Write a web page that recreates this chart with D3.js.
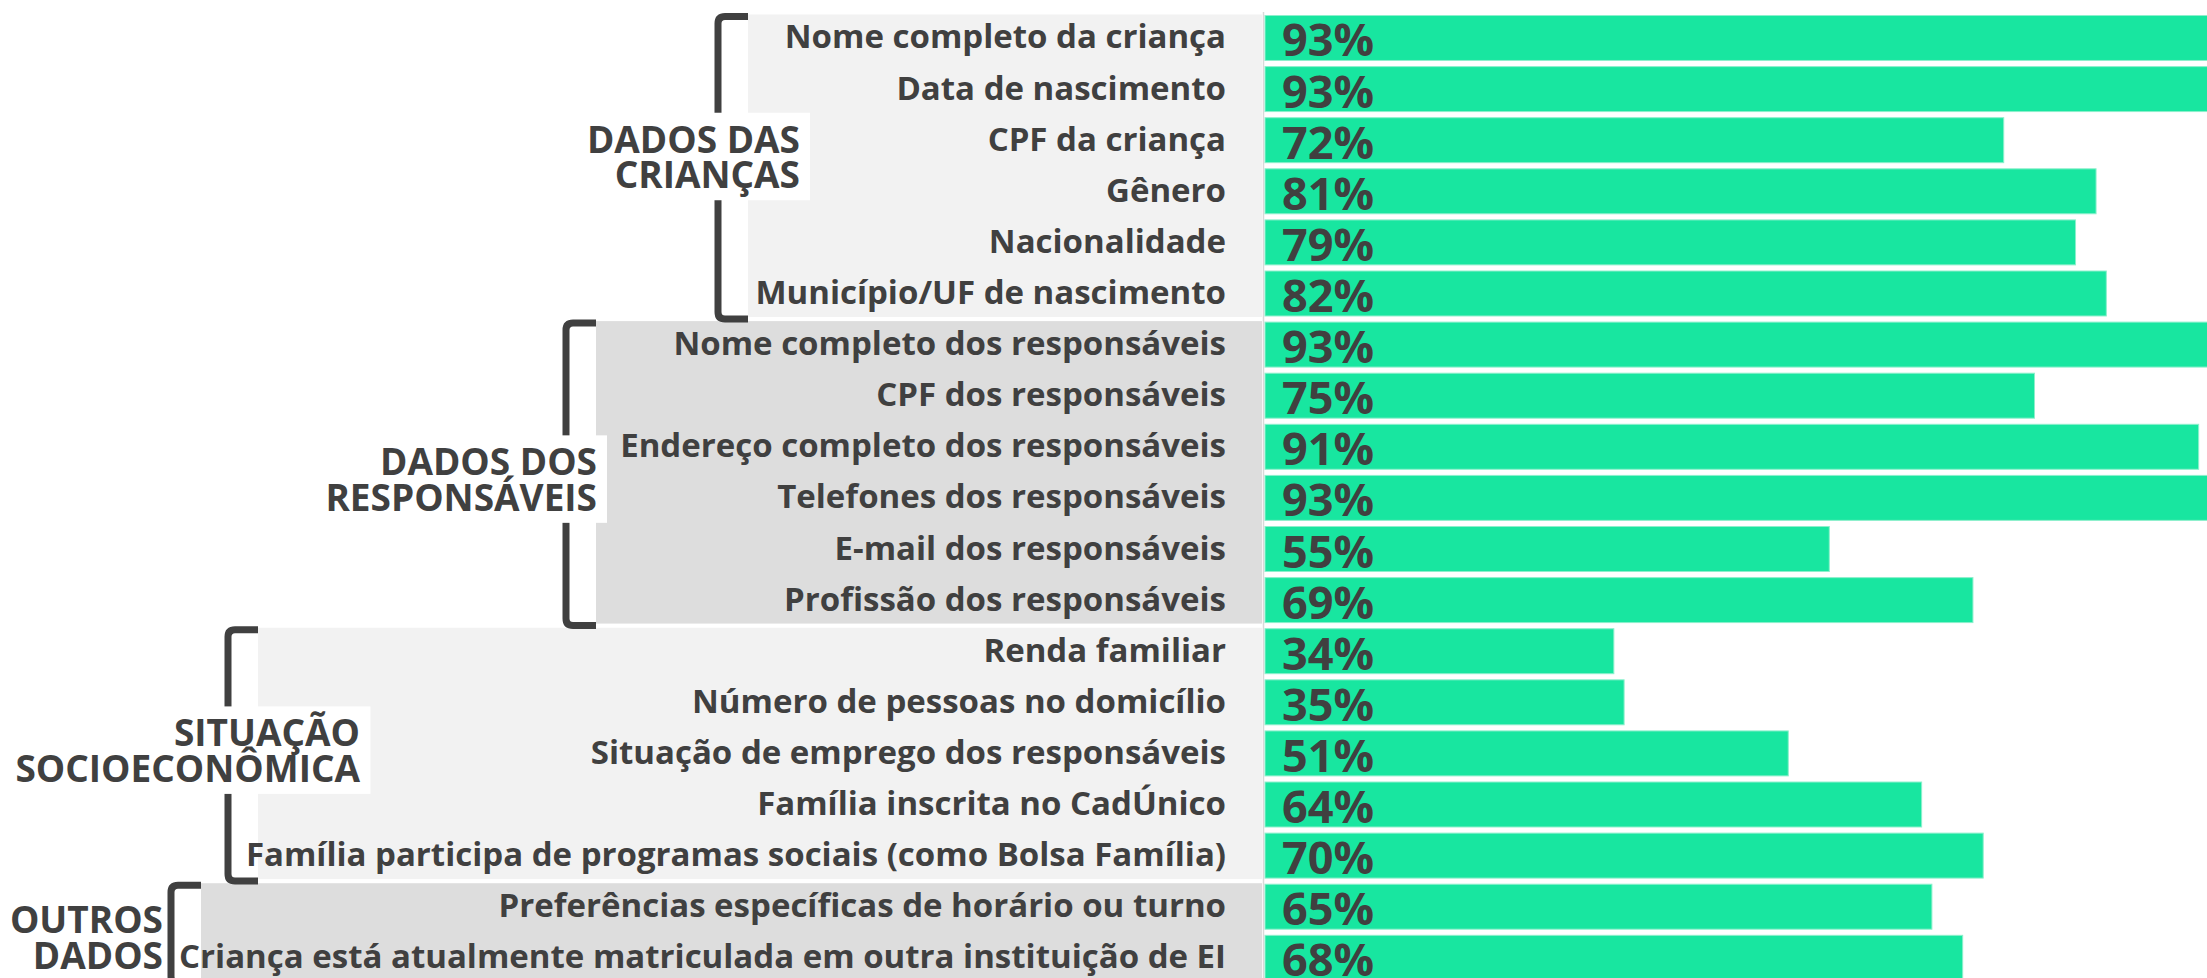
<!DOCTYPE html>
<html>
<head>
  <meta charset="utf-8">
  <title>Dados coletados no cadastro</title>
  <script src="https://d3js.org/d3.v7.min.js"></script>
  <style>
    body { margin: 0; background: #fff; }
    svg text { font-family: "Open Sans", "Noto Sans", sans-serif; font-weight: 700; fill: #404040; }
  </style>
</head>
<body>
  <svg id="chart" width="2207" height="978"></svg>

  <script>
    // category labels, one per bar
    const items = [
      "Nome completo da criança",
      "Data de nascimento",
      "CPF da criança",
      "Gênero",
      "Nacionalidade",
      "Município/UF de nascimento",
      "Nome completo dos responsáveis",
      "CPF dos responsáveis",
      "Endereço completo dos responsáveis",
      "Telefones dos responsáveis",
      "E-mail dos responsáveis",
      "Profissão dos responsáveis",
      "Renda familiar",
      "Número de pessoas no domicílio",
      "Situação de emprego dos responsáveis",
      "Família inscrita no CadÚnico",
      "Família participa de programas sociais (como Bolsa Família)",
      "Preferências específicas de horário ou turno",
      "Criança está atualmente matriculada em outra instituição de EI"
    ];

    // percentage of yes answers
    const values = [93, 93, 72, 81, 79, 82, 93, 75, 91, 93, 55, 69, 34, 35, 51, 64, 70, 65, 68];

    // group titles (two lines each) and how many items fall in each group
    const groupLines = [
      ["DADOS DAS", "CRIANÇAS"],
      ["DADOS DOS", "RESPONSÁVEIS"],
      ["SITUAÇÃO", "SOCIOECONÔMICA"],
      ["OUTROS", "DADOS"]
    ];
    const groupSizes = [6, 6, 5, 2];

    // hand placed layout for the brackets and group titles
    const bracketX = [718, 566, 228, 171];
    const titleRight = [800, 597, 360, 163];
    const titleDy = [-13, 3, -7, 1];
    const bandFill = ["#f2f2f2", "#dddddd", "#f2f2f2", "#dddddd"];

    const svg = d3.select("svg#chart");
    const width = +svg.attr("width");
    const height = +svg.attr("height");

    const barLeft = 1265;
    const labelRight = 1226;

    const x = d3.scaleLinear().domain([0, 100]).range([barLeft, barLeft + 1026]);
    const y = d3.scaleBand().domain(d3.range(items.length))
      .range([15.5, 980.3]).paddingInner(0.12).paddingOuter(0);

    // build group info from sizes
    let start = 0;
    const groups = groupSizes.map((n, i) => {
      const g = { i: i, first: start, last: start + n - 1 };
      start += n;
      g.top = y(g.first) - 1;
      g.bottom = y(g.last) + y.bandwidth() + 1;
      return g;
    });

    const bg = svg.append("g").attr("id", "bands");
    const brackets = svg.append("g").attr("id", "brackets");
    const titles = svg.append("g").attr("id", "titles");
    const chartArea = svg.append("g").attr("id", "bars");

    //light / dark bands behind each group
    bg.selectAll("rect.band").data(groups)
      .join("rect")
      .attr("class", "band")
      .attr("x", d => bracketX[d.i] + 30)
      .attr("y", d => d.top)
      .attr("width", d => barLeft - 3 - (bracketX[d.i] + 30))
      .attr("height", d => d.bottom - d.top)
      .attr("fill", d => bandFill[d.i]);

    // square brackets on the left of each group
    brackets.selectAll("path").data(groups)
      .join("path")
      .attr("fill", "none")
      .attr("stroke", "#404040")
      .attr("stroke-width", 7)
      .attr("d", d => {
        const bx = bracketX[d.i];
        const t = d.top + 2;
        const b = d.bottom + 2;
        return `M${bx + 30},${t} H${bx + 7} Q${bx},${t} ${bx},${t + 7} V${b - 7} Q${bx},${b} ${bx + 7},${b} H${bx + 30}`;
      });

    // group titles with white box behind them
    groups.forEach(g => {
      const mid = (g.top + g.bottom) / 2;
      const base = mid + titleDy[g.i];
      const tg = titles.append("g");
      const box = tg.append("rect").attr("fill", "#fff");
      const t = tg.append("text")
        .attr("text-anchor", "end")
        .style("font-size", "37px");
      groupLines[g.i].forEach((line, k) => {
        t.append("tspan")
          .attr("x", titleRight[g.i])
          .attr("y", base + k * 35.5)
          .text(line);
      });
      const bb = t.node().getBBox();
      if (g.i < 3) {
        box.attr("x", bb.x - 4)
          .attr("y", base - 40)
          .attr("width", bb.width + 14)
          .attr("height", 35.5 + 52);
      }
    });

    // category labels
    chartArea.selectAll("text.item").data(items)
      .join("text")
      .attr("class", "item")
      .attr("text-anchor", "end")
      .attr("x", labelRight)
      .attr("y", (d, i) => y(i) + y.bandwidth() / 2 + 10.5)
      .style("font-size", "33px")
      .text(d => d);

    // thin divider between labels and bars
    chartArea.append("line")
      .attr("x1", barLeft - 1.5).attr("x2", barLeft - 1.5)
      .attr("y1", 12).attr("y2", height)
      .attr("stroke", "#d9d9d9")
      .attr("stroke-width", 1.5);

    chartArea.selectAll("rect.bar").data(values)
      .join("rect")
      .attr("class", "bar")
      .attr("x", x(0))
      .attr("y", (d, i) => y(i))
      .attr("width", d => x(d) - x(0))
      .attr("height", y.bandwidth())
      .attr("fill", "#18e6a0")
      .attr("stroke", "#8cf0cc")
      .attr("stroke-width", 1);

    chartArea.selectAll("text.pct").data(values)
      .join("text")
      .attr("class", "pct")
      .attr("x", x(0) + 17)
      .attr("y", (d, i) => y(i) + y.bandwidth() / 2 + 18.5)
      .style("font-size", "45px")
      .text(d => d + "%");
  </script>
</body>
</html>
